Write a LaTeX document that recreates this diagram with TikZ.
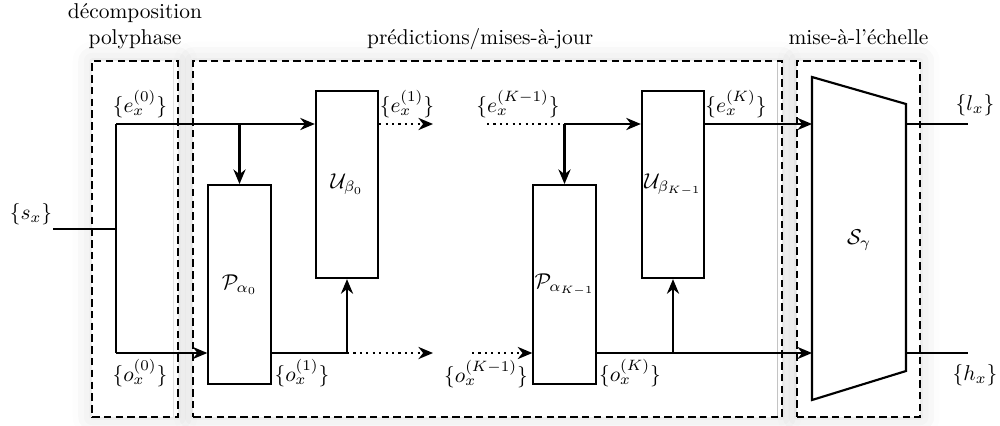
\documentclass[tikz,border=0pt]{standalone}
\usepackage{amsmath,amssymb}
\usetikzlibrary{arrows.meta,positioning,shadows.blur,calc}

\begin{document}
\begin{tikzpicture}[x=0.0164cm,y=-0.0164cm,
  block/.style={draw,line width=1pt,fill=white,minimum width=1.02cm,inner sep=0pt},
  group/.style={draw,line width=1pt,dash pattern=on 3.5pt off 2pt,fill=white,inner sep=0pt,
                blur shadow={shadow xshift=0pt,shadow yshift=0pt,
                             shadow blur radius=9pt,shadow opacity=14}},
  title/.style={align=center,text depth=1.94pt},
  arr/.style={-{Stealth[length=2.4mm,width=2mm]},line width=1pt},
  flow/.style={line width=1pt},
  dots/.style={line width=1pt,dotted}
]
  \useasboundingbox (0,0) rectangle (1000,425);
  % groups
  \node[group,minimum width=1.41cm,minimum height=5.84cm] (grpdec)  at (135,239) {};
  \node[group,minimum width=9.66cm,minimum height=5.84cm] (grppred) at (487.5,239) {};
  \node[group,minimum width=2.03cm,minimum height=5.84cm] (grpscal) at (858.5,239) {};
  \node[title,above=0.06cm of grpdec] (tdec) {décomposition\\polyphase};
  \node[title,above=0.06cm of grppred,xshift=-0.12cm] (tpred) {prédictions/mises-à-jour};
  \node[title,above=0.06cm of grpscal] (tscal) {mise-à-l'échelle};
  % blocks
  \node[block,minimum height=3.26cm] (pred0) at (239.5,284.5) {$\mathcal{P}_{\alpha_0}$};
  \node[block,minimum height=3.07cm] (upd0)  at (347,184.5) {$\mathcal{U}_{\beta_0}$};
  \node[block,minimum height=3.26cm] (predK) at (564.5,284.5) {$\mathcal{P}_{\alpha_{K-1}}$};
  \node[block,minimum height=3.07cm] (updK)  at (673,184.5) {$\mathcal{U}_{\beta_{K-1}}$};
  % scaling block
  \coordinate (sctl) at (812,77);
  \coordinate (sctr) at (906,104);
  \coordinate (scbr) at (906,371);
  \coordinate (scbl) at (812,400);
  \draw[line width=1pt,fill=white] (sctl) -- (sctr) -- (scbr) -- (scbl) -- cycle;
  \node (scal) at (859,240) {$\mathcal{S}_\gamma$};
  % coordinates
  \coordinate (in) at (53,229);
  \coordinate (split) at (116,229);
  \coordinate (etop) at (116,124);
  \coordinate (obot) at (116,353);
  \coordinate (e1end) at (433,124);
  \coordinate (o1end) at (433,353);
  \coordinate (eKstart) at (487,124);
  \coordinate (oKstart) at (472,353);
  \coordinate (lin) at (812,124);
  \coordinate (hin) at (812,353);
  \coordinate (lout) at (968,124);
  \coordinate (hout) at (968,353);
  % input and split
  \draw[flow] (in) -- (split);
  \draw[flow] (etop) -- (obot);
  \draw[arr] (etop) -- (etop -| upd0.west);
  \draw[arr] (etop -| pred0.north) -- (pred0.north);
  \draw[arr] (obot) -- (obot -| pred0.west);
  % first stage outputs
  \draw[flow] (obot -| pred0.east) -- (obot -| upd0.south);
  \draw[arr] (obot -| upd0.south) -- (upd0.south);
  \draw[arr,dots] (obot -| upd0.south) -- (o1end);
  \draw[arr,dots] (etop -| upd0.east) -- (e1end);
  % last stage
  \draw[dots] (eKstart) -- (eKstart -| predK.north);
  \draw[arr] (eKstart -| predK.north) -- (predK.north);
  \draw[arr] (eKstart -| predK.north) -- (eKstart -| updK.west);
  \draw[arr,dots] (oKstart) -- (oKstart -| predK.west);
  \draw[arr] (oKstart -| predK.east) -- (hin);
  \draw[arr] (oKstart -| updK.south) -- (updK.south);
  \draw[arr] (etop -| updK.east) -- (lin);
  % outputs
  \draw[flow] (lin -| sctr) -- (lout);
  \draw[flow] (hin -| scbr) -- (hout);
  % signal labels
  \node (lsx) at (31,214) {$\{s_x\}$};
  \node (le0) at (140,104) {$\{e_x^{(0)}\}$};
  \node (lo0) at (140,373) {$\{o_x^{(0)}\}$};
  \node (le1) at (407,104) {$\{e_x^{(1)}\}$};
  \node (lo1) at (302,373) {$\{o_x^{(1)}\}$};
  \node (leK1) at (518,104) {$\{e_x^{(K-1)}\}$};
  \node (loK1) at (486,374) {$\{o_x^{(K-1)}\}$};
  \node (leK) at (736,104) {$\{e_x^{(K)}\}$};
  \node (loK) at (630,373) {$\{o_x^{(K)}\}$};
  \node (llx) at (975,105) {$\{l_x\}$};
  \node (lhx) at (975,375) {$\{h_x\}$};
\end{tikzpicture}
\end{document}
